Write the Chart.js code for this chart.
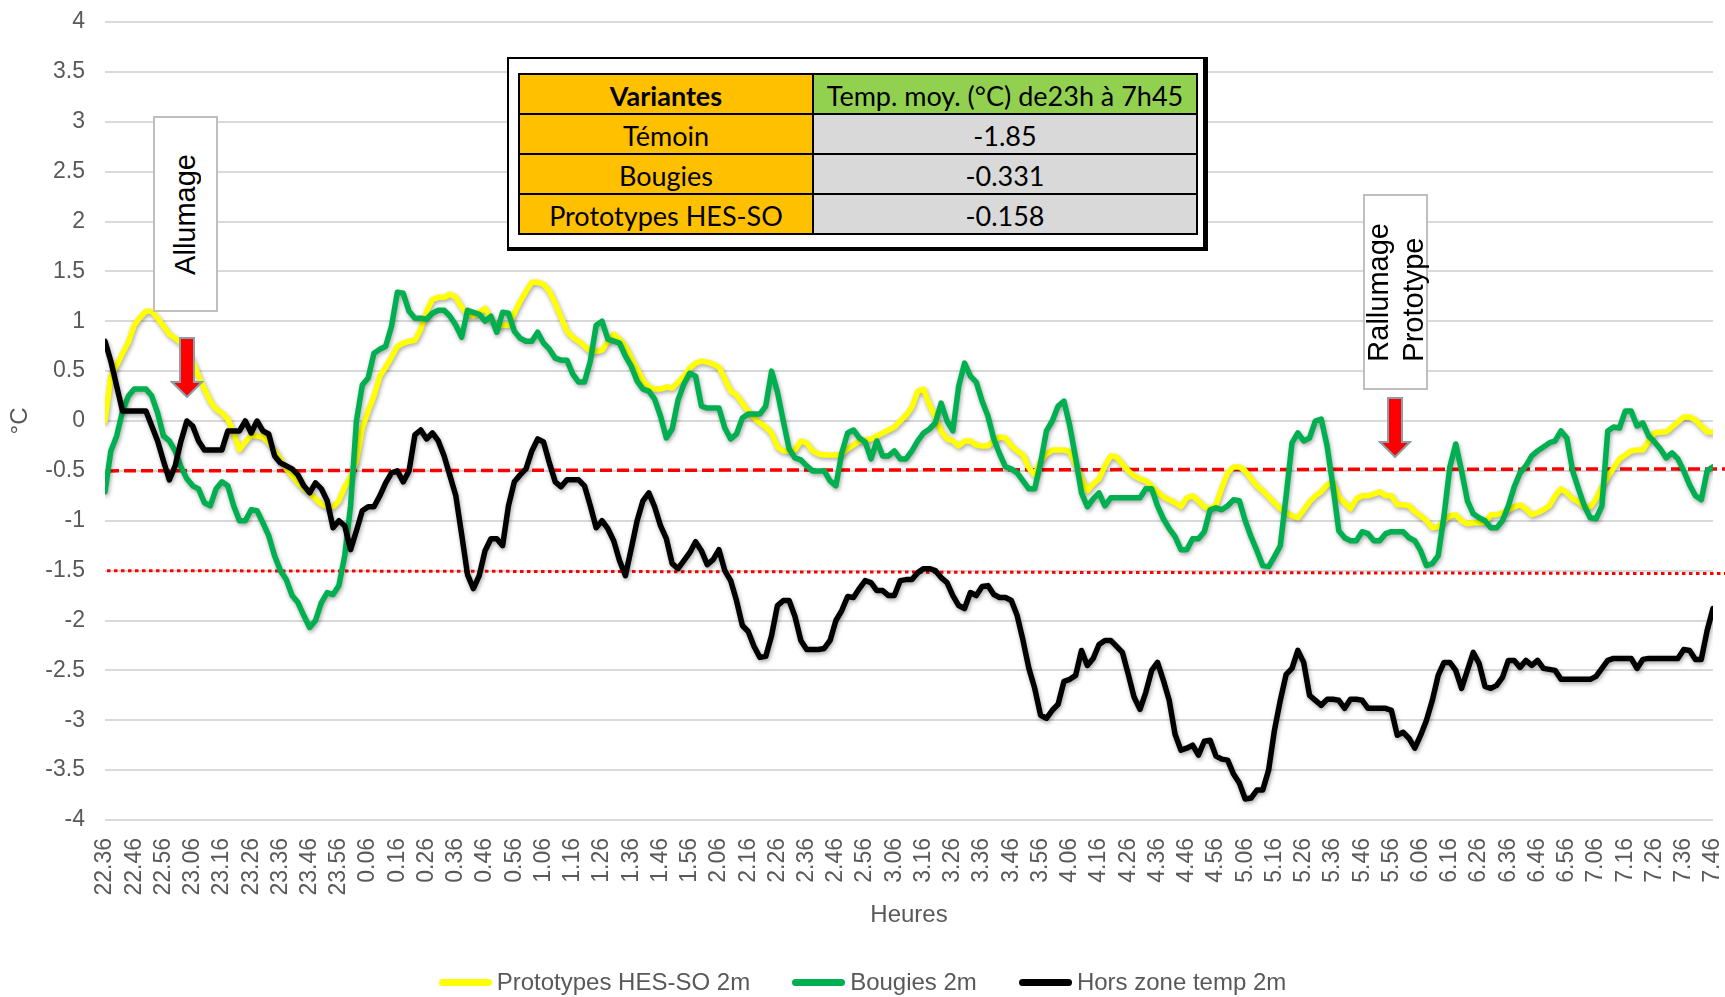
<!DOCTYPE html>
<html>
<head>
<meta charset="utf-8">
<script src="https://cdn.jsdelivr.net/npm/chart.js@4.4.1/dist/chart.umd.min.js"></script>
<style>
  body { margin: 0; background: #fff; }
  #wrap { position: relative; width: 1725px; height: 997px; overflow: hidden; font-family: "Liberation Sans", Arial, sans-serif; }
  #chart { position: absolute; left: 0; top: 0; }
  .frame { position: absolute; left: 507px; top: 57px; width: 701px; height: 194px; box-sizing: border-box;
    border-style: solid; border-color: #000; border-width: 2px 5px 4px 2px; background: #fff; }
  table.stats { position: absolute; left: 518px; top: 73px; width: 680px; height: 161px; border-collapse: collapse;
    font-family: Lato, "Open Sans", sans-serif; font-size: 27px; color: #000; }
  table.stats td { border: 2px solid #000; text-align: center; padding: 3px 0 0 0; height: 35px; line-height: 30px; }
  table.stats td.name { background: #ffc000; width: 292px; }
  table.stats td.val { background: #d9d9d9; }
  table.stats tr.head td.name { font-weight: bold; }
  table.stats tr.head td.val { background: #92d050; }
  .note { position: absolute; box-sizing: border-box; width: 65px; height: 196px; border: 2px solid #bfbfbf; background: #fff;
    display: flex; align-items: center; justify-content: center; }
  .note span { writing-mode: vertical-rl; transform: rotate(180deg); font-size: 29px; line-height: 35px; color: #000; text-align: left; }
  .arrow { position: absolute; }
  #legend { position: absolute; left: 0; top: 968px; width: 1725px; display: flex; justify-content: center; gap: 42px;
    font-size: 24px; color: #595959; line-height: 28px; }
  #legend .item { display: flex; align-items: center; }
  #legend .swatch { display: inline-block; width: 53px; height: 7px; border-radius: 4px; margin-right: 5px; }
</style>
</head>
<body>
<div id="wrap">
  <canvas id="chart" width="1725" height="997"></canvas>

  <div class="frame"></div>
  <table class="stats" id="stats"></table>

  <div class="note" style="left:153px; top:116px;"><span>Allumage</span></div>
  <div class="note" style="left:1363px; top:194px;"><span>Rallumage<br>Prototype</span></div>

  <svg class="arrow" style="left:170px; top:337px;" width="34" height="62" viewBox="0 0 34 62">
    <polygon points="10,1 24,1 24,45 32,45 17,60 2,45 10,45" fill="#ff0000" stroke="#8d9fa6" stroke-width="2"/>
  </svg>
  <svg class="arrow" style="left:1378px; top:397px;" width="34" height="62" viewBox="0 0 34 62">
    <polygon points="10,1 24,1 24,45 32,45 17,60 2,45 10,45" fill="#ff0000" stroke="#8d9fa6" stroke-width="2"/>
  </svg>

  <div id="legend"></div>
</div>

<script>
// minutes between two samples, first sample at 22.36
const sampleMinutes = 2;

const tickLabels = [
  "22.36", "22.46", "22.56", "23.06", "23.16", "23.26", "23.36", "23.46", "23.56",
  "0.06", "0.16", "0.26", "0.36", "0.46", "0.56",
  "1.06", "1.16", "1.26", "1.36", "1.46", "1.56",
  "2.06", "2.16", "2.26", "2.36", "2.46", "2.56",
  "3.06", "3.16", "3.26", "3.36", "3.46", "3.56",
  "4.06", "4.16", "4.26", "4.36", "4.46", "4.56",
  "5.06", "5.16", "5.26", "5.36", "5.46", "5.56",
  "6.06", "6.16", "6.26", "6.36", "6.46", "6.56",
  "7.06", "7.16", "7.26", "7.36", "7.46"
];

const seriesNames = ["Prototypes HES-SO 2m", "Bougies 2m", "Hors zone temp 2m"];

const prototypes = [
  0.0, 0.45, 0.56, 0.68, 0.79, 0.96, 1.04, 1.1, 1.1, 1.03,
  0.95, 0.87, 0.83, 0.78, 0.72, 0.6, 0.45, 0.32, 0.2, 0.12,
  0.08, 0.02, -0.12, -0.29, -0.21, -0.14, -0.15, -0.16, -0.22, -0.29,
  -0.38, -0.48, -0.55, -0.62, -0.68, -0.72, -0.78, -0.83, -0.86, -0.86,
  -0.8, -0.66, -0.56, -0.4, -0.07, 0.1, 0.25, 0.45, 0.54, 0.64,
  0.75, 0.78, 0.8, 0.81, 0.92, 1.1, 1.22, 1.24, 1.24, 1.27,
  1.24, 1.14, 1.07, 1.05, 1.09, 1.13, 1.02, 0.95, 0.96, 0.96,
  1.08, 1.2, 1.3, 1.39, 1.39, 1.37, 1.3, 1.18, 1.04, 0.9,
  0.84, 0.8, 0.75, 0.7, 0.7, 0.71, 0.8, 0.87, 0.82, 0.75,
  0.63, 0.52, 0.41, 0.34, 0.32, 0.32, 0.34, 0.33, 0.39, 0.45,
  0.53, 0.58, 0.6, 0.59, 0.57, 0.54, 0.42, 0.3, 0.26, 0.18,
  0.1, 0.03, -0.02, -0.06, -0.12, -0.26, -0.3, -0.3, -0.29, -0.2,
  -0.22, -0.3, -0.33, -0.34, -0.34, -0.34, -0.33, -0.28, -0.24, -0.2,
  -0.19, -0.18, -0.15, -0.12, -0.09, -0.06, 0.0, 0.06, 0.14, 0.3,
  0.32, 0.16, 0.04, -0.1, -0.18, -0.2, -0.25, -0.2, -0.2, -0.24,
  -0.25, -0.25, -0.2, -0.16, -0.17, -0.25, -0.3, -0.34, -0.47, -0.54,
  -0.4, -0.33, -0.29, -0.29, -0.29, -0.31, -0.44, -0.57, -0.7, -0.63,
  -0.58, -0.45, -0.35, -0.36, -0.43, -0.5, -0.55, -0.58, -0.6, -0.65,
  -0.71, -0.76, -0.79, -0.82, -0.86, -0.77, -0.75, -0.8, -0.86, -0.88,
  -0.84, -0.67, -0.52, -0.46, -0.46, -0.5, -0.58, -0.65, -0.7, -0.76,
  -0.82, -0.88, -0.92, -0.95, -0.97, -0.89, -0.81, -0.75, -0.71, -0.64,
  -0.61, -0.76, -0.82, -0.88, -0.78, -0.75, -0.75, -0.73, -0.71, -0.75,
  -0.75, -0.84, -0.84, -0.85, -0.91, -0.95, -1.0, -1.07, -1.06, -1.0,
  -0.95, -0.94, -1.0, -1.03, -1.02, -1.02, -1.02, -0.94, -0.94, -0.92,
  -0.89, -0.86, -0.84, -0.88, -0.94, -0.92, -0.89, -0.85, -0.75, -0.68,
  -0.72, -0.78, -0.81, -0.86, -0.86, -0.78, -0.66, -0.56, -0.47, -0.38,
  -0.34, -0.3, -0.29, -0.29, -0.2, -0.12, -0.11, -0.11, -0.06, -0.01,
  0.04, 0.04, 0.01, -0.05, -0.11, -0.11
];

const bougies = [
  -0.71, -0.3, -0.15, 0.1, 0.25, 0.32, 0.32, 0.32, 0.25, 0.08,
  -0.15, -0.2, -0.3, -0.46, -0.58, -0.65, -0.68, -0.82, -0.85, -0.68,
  -0.61, -0.65, -0.85, -1.0, -1.0, -0.89, -0.9, -1.02, -1.15, -1.35,
  -1.5, -1.59, -1.75, -1.82, -1.95, -2.07, -2.0, -1.82, -1.72, -1.74,
  -1.65, -1.35, -0.85, 0.0, 0.36, 0.43, 0.68, 0.72, 0.75, 0.95,
  1.29, 1.28, 1.1, 1.03, 1.03, 1.02, 1.08, 1.11, 1.11, 1.05,
  0.96, 0.84, 1.11, 1.09, 1.07, 1.0, 1.05, 0.89, 1.09, 1.08,
  0.9, 0.83, 0.8, 0.8, 0.89, 0.78, 0.72, 0.63, 0.61, 0.61,
  0.47, 0.39, 0.39, 0.6, 0.96, 1.0, 0.82, 0.8, 0.78, 0.65,
  0.55, 0.4, 0.32, 0.3, 0.22, 0.05, -0.17, -0.08, 0.21, 0.37,
  0.48, 0.45, 0.15, 0.13, 0.13, 0.13, -0.07, -0.18, -0.13, 0.03,
  0.07, 0.07, 0.07, 0.15, 0.5, 0.29, 0.0, -0.28, -0.37, -0.39,
  -0.45, -0.5, -0.5, -0.5, -0.6, -0.65, -0.32, -0.12, -0.09, -0.17,
  -0.21, -0.38, -0.2, -0.35, -0.35, -0.3, -0.38, -0.38, -0.3, -0.2,
  -0.12, -0.08, -0.02, 0.18, 0.0, -0.1, 0.35, 0.58, 0.45, 0.39,
  0.2, 0.05, -0.18, -0.33, -0.46, -0.48, -0.52, -0.6, -0.68, -0.68,
  -0.42, -0.1, 0.0, 0.15, 0.2, -0.05, -0.37, -0.72, -0.86, -0.78,
  -0.72, -0.85, -0.77, -0.77, -0.77, -0.77, -0.77, -0.77, -0.68, -0.68,
  -0.85, -0.98, -1.08, -1.16, -1.29, -1.29, -1.18, -1.18, -1.11, -0.89,
  -0.87, -0.89, -0.85, -0.79, -0.8, -1.0, -1.16, -1.3, -1.45, -1.46,
  -1.36, -1.25, -0.75, -0.22, -0.12, -0.2, -0.17, 0.0, 0.02, -0.25,
  -0.65, -1.1, -1.17, -1.2, -1.2, -1.11, -1.13, -1.2, -1.2, -1.13,
  -1.11, -1.11, -1.11, -1.17, -1.2, -1.3, -1.45, -1.43, -1.35, -0.95,
  -0.46, -0.23, -0.5, -0.8, -0.93, -0.97, -1.0, -1.07, -1.07, -1.0,
  -0.85, -0.66, -0.52, -0.45, -0.35, -0.3, -0.26, -0.22, -0.2, -0.1,
  -0.17, -0.5, -0.68, -0.85, -0.97, -0.98, -0.85, -0.1, -0.06, -0.07,
  0.1, 0.1, -0.05, -0.02, -0.15, -0.21, -0.28, -0.37, -0.32, -0.38,
  -0.5, -0.64, -0.75, -0.79, -0.5, -0.46
];

const horsZone = [
  0.8, 0.6, 0.35, 0.1, 0.1, 0.1, 0.1, 0.1, -0.05, -0.2,
  -0.4, -0.59, -0.45, -0.2, 0.0, -0.05, -0.2, -0.29, -0.29, -0.29,
  -0.29, -0.1, -0.1, -0.1, 0.0, -0.12, 0.0, -0.1, -0.13, -0.35,
  -0.42, -0.45, -0.48, -0.54, -0.65, -0.72, -0.62, -0.68, -0.8, -1.07,
  -1.0, -1.05, -1.29, -1.1, -0.9, -0.86, -0.86, -0.75, -0.62, -0.52,
  -0.5, -0.61, -0.5, -0.14, -0.09, -0.18, -0.12, -0.2, -0.35, -0.55,
  -0.75, -1.14, -1.54, -1.68, -1.55, -1.3, -1.18, -1.18, -1.25, -0.85,
  -0.61, -0.54, -0.48, -0.3, -0.18, -0.21, -0.42, -0.61, -0.66, -0.59,
  -0.59, -0.59, -0.65, -0.85, -1.07, -1.0, -1.08, -1.2, -1.4, -1.55,
  -1.28, -1.0, -0.8, -0.72, -0.86, -1.05, -1.18, -1.43, -1.48, -1.4,
  -1.32, -1.21, -1.3, -1.44, -1.39, -1.29, -1.5, -1.6, -1.8, -2.05,
  -2.11, -2.26, -2.37, -2.36, -2.15, -1.85, -1.8, -1.8, -1.96, -2.2,
  -2.29, -2.29, -2.29, -2.28, -2.2, -2.0, -1.9, -1.76, -1.77, -1.68,
  -1.6, -1.62, -1.7, -1.7, -1.75, -1.75, -1.6, -1.59, -1.59, -1.52,
  -1.48, -1.48, -1.5, -1.57, -1.62, -1.75, -1.85, -1.88, -1.72, -1.75,
  -1.66, -1.65, -1.74, -1.77, -1.77, -1.8, -1.95, -2.2, -2.48, -2.68,
  -2.95, -2.98, -2.9, -2.84, -2.61, -2.59, -2.55, -2.3, -2.45, -2.38,
  -2.24, -2.2, -2.2, -2.26, -2.32, -2.54, -2.77, -2.89, -2.72, -2.5,
  -2.42, -2.6, -2.8, -3.14, -3.3, -3.28, -3.25, -3.35, -3.21, -3.2,
  -3.36, -3.39, -3.4, -3.54, -3.63, -3.79, -3.78, -3.7, -3.7, -3.5,
  -3.1, -2.8, -2.54, -2.48, -2.3, -2.42, -2.75, -2.8, -2.85, -2.79,
  -2.79, -2.8, -2.88, -2.79, -2.79, -2.8, -2.88, -2.88, -2.88, -2.88,
  -2.9, -3.15, -3.12, -3.18, -3.28, -3.15, -3.0, -2.8, -2.55, -2.42,
  -2.42, -2.5, -2.68, -2.5, -2.32, -2.43, -2.66, -2.68, -2.65, -2.57,
  -2.4, -2.4, -2.47, -2.4, -2.45, -2.4, -2.48, -2.49, -2.5, -2.59,
  -2.59, -2.59, -2.59, -2.59, -2.59, -2.56, -2.48, -2.4, -2.38, -2.38,
  -2.38, -2.38, -2.48, -2.39, -2.38, -2.38, -2.38, -2.38, -2.38, -2.38,
  -2.29, -2.3, -2.39, -2.39, -2.1, -1.88
];

// red reference lines (value at left edge, value at right edge)
const refStart = [-0.5, -1.5];
const refEnd = [-0.48, -1.53];

const tableHeader = ["Variantes", "Temp. moy. (°C) de23h à 7h45"];
const tableNames = ["Témoin", "Bougies", "Prototypes HES-SO"];
const tableValues = ["-1.85", "-0.331", "-0.158"];

const lineColors = ["#ffff00", "#00b050", "#000000"];

document.addEventListener("DOMContentLoaded", () => {
  renderTable();
  renderLegend();
  renderChart();
});

function renderTable() {
  const rows = tableNames
    .map((name, i) => `<tr><td class="name">${name}</td><td class="val">${tableValues[i]}</td></tr>`)
    .join("");
  document.getElementById("stats").innerHTML = `
    <tr class="head"><td class="name">${tableHeader[0]}</td><td class="val">${tableHeader[1]}</td></tr>
    ${rows}
  `;
}

function renderLegend() {
  document.getElementById("legend").innerHTML = seriesNames
    .map(
      (name, i) => `
        <div class="item"><span class="swatch" style="background:${lineColors[i]}"></span>${name}</div>
      `
    )
    .join("");
}

const toPoints = (values) => values.map((v, i) => ({ x: i * sampleMinutes, y: v }));

const refLinesPlugin = {
  id: "refLines",
  beforeDatasetsDraw(chart) {
    const { ctx, chartArea, scales } = chart;
    const styles = [
      { dash: [12, 5], width: 3.5 },
      { dash: [3.5, 3.5], width: 3 },
    ];
    refStart.forEach((start, i) => {
      ctx.save();
      ctx.strokeStyle = "#ff0000";
      ctx.lineWidth = styles[i].width;
      ctx.setLineDash(styles[i].dash);
      ctx.beginPath();
      ctx.moveTo(chartArea.left + 2, scales.y.getPixelForValue(start));
      ctx.lineTo(chart.width, scales.y.getPixelForValue(refEnd[i]));
      ctx.stroke();
      ctx.restore();
    });
  },
};

const shadowPlugin = {
  id: "lineShadow",
  beforeDatasetDraw(chart) {
    const ctx = chart.ctx;
    ctx.save();
    ctx.shadowColor = "rgba(0, 0, 0, 0.35)";
    ctx.shadowBlur = 4;
    ctx.shadowOffsetX = 1;
    ctx.shadowOffsetY = 2;
  },
  afterDatasetDraw(chart) {
    chart.ctx.restore();
  },
};

function renderChart() {
  Chart.defaults.font.family = '"Liberation Sans", Arial, sans-serif';
  const ctx = document.getElementById("chart");
  const seriesData = [prototypes, bougies, horsZone];

  new Chart(ctx, {
    type: "line",
    data: {
      datasets: seriesData.map((values, i) => ({
        label: seriesNames[i],
        data: toPoints(values),
        borderColor: lineColors[i],
        backgroundColor: lineColors[i],
        borderWidth: 5.5,
        pointRadius: 0,
        tension: 0,
        borderJoinStyle: "round",
        borderCapStyle: "round",
        order: 3 - i,
      })),
    },
    options: {
      responsive: false,
      animation: false,
      layout: { padding: { left: 0, right: 12, top: 22, bottom: 52 } },
      scales: {
        x: {
          type: "linear",
          min: 0,
          max: 550,
          afterFit: (scale) => {
            scale.height = 125;
            scale.paddingLeft = 0;
            scale.paddingRight = 0;
          },
          ticks: {
            stepSize: 10,
            autoSkip: false,
            maxRotation: 90,
            minRotation: 90,
            padding: 10,
            color: "#595959",
            font: { size: 23 },
            callback: (value) => tickLabels[Math.round(value / 10)],
          },
          grid: { display: false },
          border: { display: false },
          title: {
            display: true,
            text: "Heures",
            color: "#595959",
            font: { size: 24 },
            padding: { top: 0, bottom: 15 },
          },
        },
        y: {
          min: -4,
          max: 4,
          afterFit: (scale) => {
            scale.width = 105;
            scale.paddingTop = 0;
            scale.paddingBottom = 0;
          },
          ticks: {
            stepSize: 0.5,
            padding: 20,
            color: "#595959",
            font: { size: 23 },
            callback: (value) => String(value),
          },
          grid: { color: "#d9d9d9", lineWidth: 2, drawTicks: false },
          border: { display: false },
          title: {
            display: true,
            text: "°C",
            color: "#595959",
            font: { size: 24 },
            padding: { top: 6, bottom: 0 },
          },
        },
      },
      plugins: {
        legend: { display: false },
        tooltip: { enabled: false },
      },
    },
    plugins: [refLinesPlugin, shadowPlugin],
  });
}
</script>
</body>
</html>
